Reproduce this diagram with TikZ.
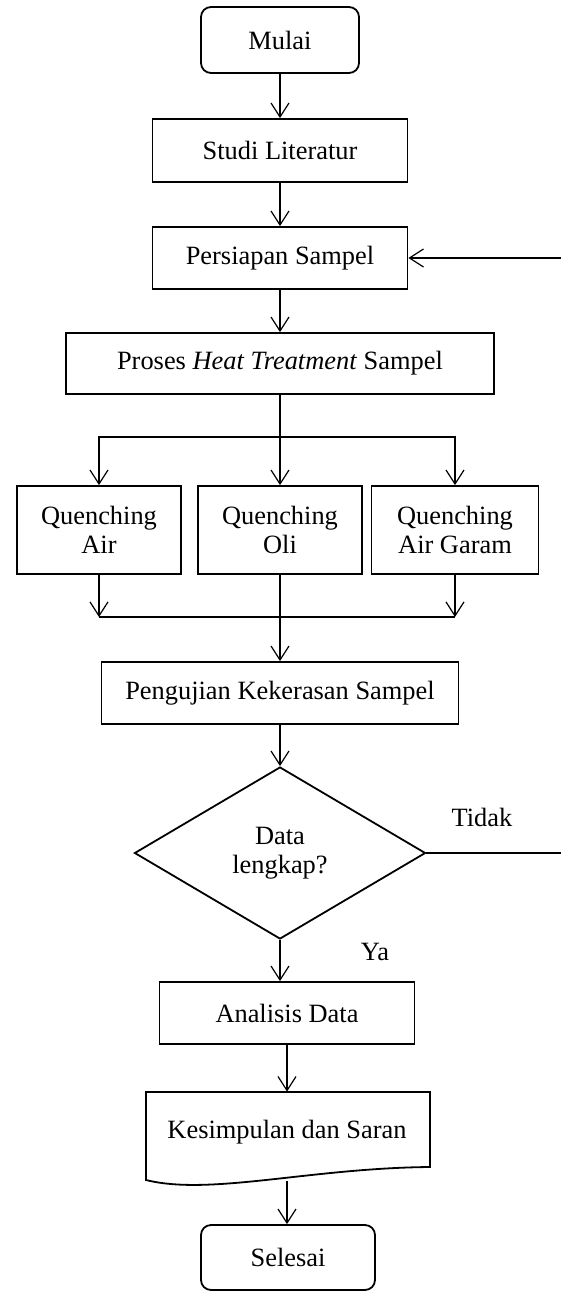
\documentclass[tikz,border=0pt]{standalone}
\usepackage{fontspec}
\setmainfont{Liberation Serif}
\usetikzlibrary{arrows.meta,shapes.geometric}

\begin{document}
\begin{tikzpicture}[x=0.5pt,y=-0.5pt,>={Straight Barb[length=7pt,width=9pt]},
    font=\fontsize{13.2}{14.5}\selectfont,
    box/.style={draw,line width=0.9pt,inner sep=0pt,align=center},
    term/.style={box,rounded corners=5pt},
    qbox/.style={box,minimum width=82pt,minimum height=44pt},
    flow/.style={->,line width=0.6pt}]
    \useasboundingbox (0,0) rectangle (561,1292);
    \node[term,minimum width=79pt,minimum height=33pt] (mulai) at (280,40) {Mulai};
    \node[box,minimum width=127.5pt,minimum height=31.5pt] (studi) at (280,150.5) {Studi Literatur};
    \node[box,minimum width=127.5pt,minimum height=31pt] (siap) at (280,258) {Persiapan Sampel};
    \node[box,minimum width=214pt,minimum height=30.5pt] (heat) at (280,363.5) {Proses \textit{Heat Treatment} Sampel};
    \node[qbox] (qair) at (99,530) {Quenching\\Air};
    \node[qbox] (qoli) at (280,530) {Quenching\\Oli};
    \node[qbox,minimum width=83.5pt] (qgaram) at (455,530) {Quenching\\Air Garam};
    \node[box,minimum width=178.5pt,minimum height=31pt] (uji) at (280,693) {Pengujian Kekerasan Sampel};
    \node[draw,diamond,aspect=1.69,line width=0.9pt,inner sep=0pt,minimum width=145.5pt,minimum height=86pt,align=center] (cek) at (280,853) {Data\\lengkap?};
    \node[box,minimum width=127.5pt,minimum height=31pt] (anls) at (287,1013) {Analisis Data};
    \node[inner sep=0pt,minimum width=142pt,minimum height=40pt] (simpul) at (287,1132) {Kesimpulan dan Saran};
    \draw[line width=0.9pt] (146,1180) -- (146,1092) -- (430,1092) -- (430,1167)
        .. controls (310,1168) and (210,1196) .. (146,1180) -- cycle;
    \node[term,minimum width=87pt,minimum height=32.5pt] (selesai) at (288,1257.5) {Selesai};
    \node (tidak) at (482,817) {Tidak};
    \node (ya) at (375,952) {Ya};
    \coordinate (pisah) at (280,437);
    \coordinate (gabung) at (280,617);
    \coordinate (ujung) at (287,1181);
    \coordinate (balik) at (561,853);
    \coordinate (masuk) at (561,258);
    \draw[flow] (mulai) -- (studi);
    \draw[flow] (studi) -- (siap);
    \draw[flow] (siap) -- (heat);
    \draw[flow] (heat) -- (qoli);
    \draw[flow] (pisah) -| (qair.north);
    \draw[flow] (pisah) -| (qgaram.north);
    \draw[flow] (qair) -- (qair |- gabung);
    \draw[flow] (qgaram) -- (qgaram |- gabung);
    \draw[line width=0.6pt] (qair |- gabung) -- (qgaram |- gabung);
    \draw[flow] (qoli) -- (uji);
    \draw[flow] (uji) -- (cek);
    \draw[flow] (cek.south) -- (cek.south |- anls.north);
    \draw[flow] (anls) -- (simpul);
    \draw[flow] (ujung) -- (ujung |- selesai.north);
    \draw[line width=0.6pt] (cek.east) -- (balik);
    \draw[flow] (masuk) -- (siap.east);
\end{tikzpicture}
\end{document}
